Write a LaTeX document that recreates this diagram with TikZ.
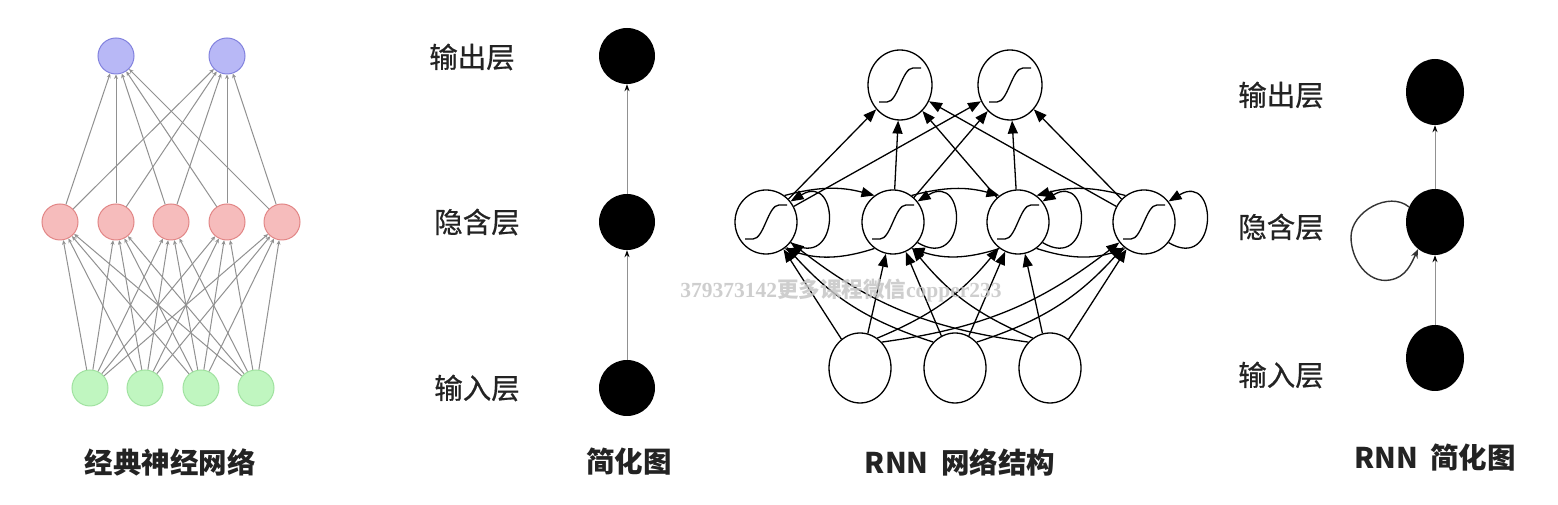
\documentclass[tikz,border=0pt]{standalone}
\usepackage{fontspec}
\newfontfamily\cjk{Noto Sans CJK SC}
\newfontfamily\cjkm{Noto Sans CJK SC}[FakeBold=0.6]
\newfontfamily\wmserif{Liberation Serif}
\usetikzlibrary{arrows.meta,shapes.geometric}
\definecolor{nnblue}{RGB}{184,184,246}
\definecolor{nnblueb}{RGB}{130,130,222}
\definecolor{nnpink}{RGB}{246,188,188}
\definecolor{nnpinkb}{RGB}{226,134,134}
\definecolor{nngreen}{RGB}{192,246,192}
\definecolor{nngreenb}{RGB}{160,226,160}
\definecolor{edgegray}{RGB}{145,145,145}
\definecolor{txtdark}{RGB}{35,35,35}
\definecolor{wmgray}{RGB}{198,198,198}
\begin{document}
\begin{tikzpicture}[x=1pt,y=1pt,
  cnode/.style={circle, minimum size=36pt, inner sep=0pt, line width=1pt},
  bnode/.style={cnode, fill=nnblue, draw=nnblueb},
  pnode/.style={cnode, fill=nnpink, draw=nnpinkb},
  gnode/.style={cnode, fill=nngreen, draw=nngreenb},
  cedge/.style={draw=edgegray, line width=1pt, -{Stealth[length=4.5pt,width=4pt]}},
  snode/.style={circle, minimum size=56pt, inner sep=0pt, fill=black},
  rsnode/.style={ellipse, minimum width=58pt, minimum height=66pt, inner sep=0pt, fill=black},
  sedge/.style={draw=edgegray, line width=0.9pt, -{Stealth[length=7pt,width=5pt,color=black]}},
  rnode/.style={ellipse, draw=black, line width=1.3pt, fill=white, inner sep=0pt},
  topnode/.style={rnode, minimum width=64pt, minimum height=70pt},
  hidnode/.style={rnode, minimum width=62pt, minimum height=64pt},
  innode/.style={rnode, minimum width=62pt, minimum height=70pt},
  rarrow/.style={draw=black, line width=1.3pt, -{Triangle[length=13pt,width=10pt]}},
  lbl/.style={font=\cjkm\fontsize{28.5}{28.5}\selectfont, text=txtdark},
  ttl/.style={font=\cjk\bfseries\fontsize{28.5}{28.5}\selectfont, text=txtdark},
  wm/.style={font=\bfseries\fontsize{21.5}{21.5}\selectfont, text=wmgray, opacity=0.85}
]
\useasboundingbox (0,0) rectangle (1558,505);
\fill[white] (0,0) rectangle (1558,505);

% ---------- classic neural network ----------
\foreach \x [count=\i] in {116,227} \node[bnode] (co\i) at (\x,449) {};
\foreach \x [count=\i] in {60,116,171,227,282} \node[pnode] (ch\i) at (\x,283) {};
\foreach \x [count=\i] in {90,145,201,256} \node[gnode] (ci\i) at (\x,117) {};
\foreach \i in {1,...,4} \foreach \j in {1,...,5} \draw[cedge] (ci\i) -- (ch\j);
\foreach \j in {1,...,5} \foreach \k in {1,2} \draw[cedge] (ch\j) -- (co\k);
\node[ttl] (t1) at (170,43) {经典神经网络};

% ---------- simplified ----------
\node[snode] (s1) at (627,449) {};
\node[snode] (s2) at (627,283) {};
\node[snode] (s3) at (627,117) {};
\draw[sedge] (s3) -- (s2);
\draw[sedge] (s2) -- (s1);
\node[lbl] (l1) at (472,448) {输出层};
\node[lbl] (l2) at (477,283) {隐含层};
\node[lbl] (l3) at (477,117) {输入层};
\node[ttl] (t2) at (629,43) {简化图};

% ---------- RNN structure ----------
\node[topnode] (o1) at (900,420) {};
\node[topnode] (o2) at (1010,420) {};
\node[hidnode] (h1) at (766,283) {};
\node[hidnode] (h2) at (893,283) {};
\node[hidnode] (h3) at (1018,283) {};
\node[hidnode] (h4) at (1144,283) {};
\node[innode] (x1) at (860,137) {};
\node[innode] (x2) at (955,137) {};
\node[innode] (x3) at (1050,137) {};

% self loops
\foreach \i in {1,...,4}
  \draw[rarrow] (h\i.-40) .. controls +(50,-30) and +(50,30) .. (h\i.40);
% hidden -> hidden top arcs
\draw[rarrow] (h1.55) to[bend left=15] (h2.125);
\draw[rarrow] (h2.55) to[bend left=15] (h3.125);
\draw[rarrow] (h4.125) to[bend right=15] (h3.55);
% hidden -> hidden bottom arcs
\draw[rarrow] (h2.235) to[bend left=18] (h1.-55);
\draw[rarrow] (h3.235) to[bend left=18] (h2.-55);
\draw[rarrow] (h3.-55) to[bend right=18] (h4.235);
% hidden -> output
\foreach \i in {1,...,4} \foreach \k in {1,2} \draw[rarrow] (h\i) -- (o\k);
% input -> hidden
\draw[rarrow] (x1) -- (h1);
\draw[rarrow] (x1) -- (h2);
\draw[rarrow] (x1.60) to[bend right=14] (h3);
\draw[rarrow] (x1.50) to[bend right=15] (h4);
\draw[rarrow] (x2.130) to[bend left=15] (h1);
\draw[rarrow] (x2) -- (h2);
\draw[rarrow] (x2) -- (h3);
\draw[rarrow] (x2.50) to[bend right=15] (h4);
\draw[rarrow] (x3.130) to[bend left=15] (h1);
\draw[rarrow] (x3.120) to[bend left=14] (h2);
\draw[rarrow] (x3) -- (h3);
\draw[rarrow] (x3) -- (h4);
% sigmoid symbols
\foreach \n in {o1,o2,h1,h2,h3,h4} {
  \begin{scope}[shift={(\n.center)}]
    \draw[line width=1.3pt] (-21,-17) -- (-13,-17) .. controls (-2,-17) and (2,17) .. (13,17) -- (21,17);
  \end{scope}
}
\node[ttl] (t3) at (960,43) {RNN\hspace{6pt} 网络结构};

% ---------- RNN simplified ----------
\node[rsnode] (r1) at (1435,413) {};
\node[rsnode] (r2) at (1435,283) {};
\node[rsnode] (r3) at (1435,147) {};
\draw[sedge] (r3) -- (r2);
\draw[sedge] (r2) -- (r1);
\draw[draw=black!80, line width=1.4pt, -{Stealth[length=9pt,width=7pt]}]
  (r2.150) to[out=140,in=90] (1351,268) to[out=-90,in=190] (1390,225) to[out=10,in=-115] (r2.238);
\node[lbl] (l4) at (1281,410) {输出层};
\node[lbl] (l5) at (1281,278) {隐含层};
\node[lbl] (l6) at (1281,130) {输入层};
\node[ttl] (t4) at (1435,47) {RNN\hspace{6pt} 简化图};

% watermark
\node[wm] (wmk) at (841,214) {\wmserif 379373142\cjk 更多课程微信\wmserif copper233};
\end{tikzpicture}
\end{document}
